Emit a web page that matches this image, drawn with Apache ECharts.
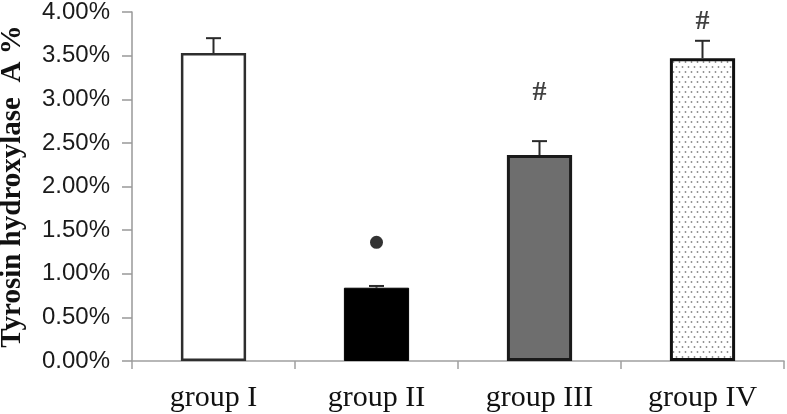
<!DOCTYPE html>
<html>
<head>
<meta charset="utf-8">
<script src="https://cdn.jsdelivr.net/npm/echarts@6/dist/echarts.min.js"></script>
<style>
html,body{margin:0;padding:0;background:#fff;}
#chart{width:787px;height:414px;}
</style>
</head>
<body>
<div id="chart"></div>
<script>
// ---- data ----
var categories = ['group I', 'group II', 'group III', 'group IV'];
var means = [3.53, 0.84, 2.36, 3.47];
var errors = [0.17, 0.02, 0.16, 0.20];
var dotMarks = [[1, 1.36]];
var hashMarks = [[2, 3.08], [3, 3.89]];
var yTicks = { min: 0, max: 4, interval: 0.5 };
var yName = 'Tyrosin hydroxylase  A %';

// dotted pattern for group IV
function dotPattern() {
  var c = document.createElement('canvas');
  c.width = 6; c.height = 10;
  var ctx = c.getContext('2d');
  ctx.fillStyle = '#ffffff';
  ctx.fillRect(0, 0, 6, 10);
  ctx.fillStyle = '#8a8a8a';
  ctx.beginPath(); ctx.arc(1.5, 2, 0.9, 0, Math.PI * 2); ctx.fill();
  ctx.beginPath(); ctx.arc(4.5, 7, 0.9, 0, Math.PI * 2); ctx.fill();
  return c;
}

var barStyles = [
  { color: '#ffffff', borderColor: '#2e2e2e', borderWidth: 2.5 },
  { color: '#000000', borderColor: '#000000', borderWidth: 1 },
  { color: '#6e6e6e', borderColor: '#1a1a1a', borderWidth: 3 },
  { color: { image: dotPattern(), repeat: 'repeat' }, borderColor: '#111111', borderWidth: 3 }
];

var barData = means.map(function (v, i) {
  return { value: v, itemStyle: barStyles[i] };
});
var errData = means.map(function (v, i) { return [i, v, errors[i]]; });

var chart = echarts.init(document.getElementById('chart'), null, { renderer: 'canvas' });
chart.setOption({
  animation: false,
  backgroundColor: '#ffffff',
  grid: { left: 132, right: 3, top: 12, bottom: 53, containLabel: false, outerBoundsMode: 'none' },
  xAxis: {
    type: 'category',
    data: categories,
    axisLine: { lineStyle: { color: '#a0a0a0', width: 1.5 } },
    axisTick: { show: true, length: 8, lineStyle: { color: '#a0a0a0', width: 1.5 } },
    axisLabel: {
      margin: 22,
      color: '#111',
      fontFamily: 'Liberation Serif',
      fontSize: 30
    }
  },
  yAxis: {
    type: 'value',
    min: yTicks.min, max: yTicks.max, interval: yTicks.interval,
    name: yName,
    nameLocation: 'middle',
    nameGap: 105,
    nameRotate: 90,
    nameTextStyle: {
      fontFamily: 'Liberation Serif',
      fontWeight: 'bold',
      fontSize: 29,
      color: '#111'
    },
    splitLine: { show: false },
    axisLine: { show: true, lineStyle: { color: '#999999', width: 1.5 } },
    axisTick: { show: true, length: 10, lineStyle: { color: '#999999', width: 1.5 } },
    axisLabel: {
      margin: 22,
      color: '#1a1a1a',
      fontFamily: 'Liberation Sans',
      fontSize: 24,
      formatter: function (v) { return v.toFixed(2) + '%'; }
    }
  },
  series: [
    {
      type: 'bar',
      data: barData,
      barWidth: '40%',
      z: 2
    },
    {
      type: 'custom',
      data: errData,
      encode: { x: 0, y: 1 },
      z: 3,
      renderItem: function (params, api) {
        var base = api.coord([api.value(0), api.value(1)]);
        var top = api.coord([api.value(0), api.value(1) + api.value(2)]);
        var half = 7.5;
        var st = { stroke: '#2a2a2a', lineWidth: 2 };
        return {
          type: 'group',
          children: [
            { type: 'line', shape: { x1: base[0], y1: base[1], x2: top[0], y2: top[1] }, style: st },
            { type: 'line', shape: { x1: top[0] - half, y1: top[1], x2: top[0] + half, y2: top[1] }, style: st }
          ]
        };
      }
    },
    {
      type: 'scatter',
      data: dotMarks,
      symbol: 'circle',
      symbolSize: 13,
      itemStyle: { color: '#000000' },
      z: 4
    },
    {
      type: 'scatter',
      data: hashMarks,
      symbolSize: 1,
      itemStyle: { color: 'rgba(0,0,0,0)' },
      label: {
        show: true,
        position: 'inside',
        formatter: '#',
        color: '#111',
        fontFamily: 'Liberation Serif',
        fontWeight: 'bold',
        fontSize: 28
      },
      z: 4
    }
  ]
});
</script>
</body>
</html>
